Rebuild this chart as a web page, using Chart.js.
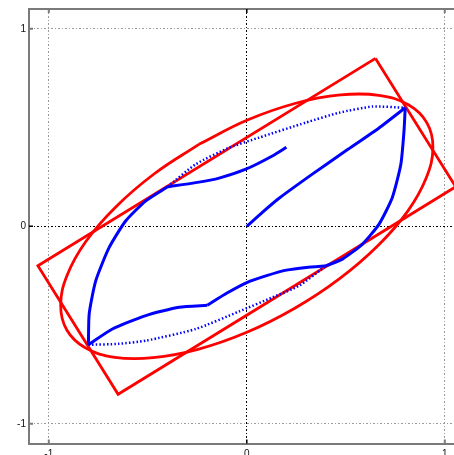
<!DOCTYPE html>
<html>
<head>
<meta charset="utf-8">
<script src="https://cdn.jsdelivr.net/npm/chart.js@4"></script>
<style>
  html, body { margin: 0; padding: 0; background: #fff; overflow: hidden; }
  #wrap { width: 470px; height: 455px; }
</style>
</head>
<body>
<div id="wrap"><canvas id="chart" width="470" height="455"></canvas></div>
<script>
/* ===== data ===== */
const xTicks = [-1, 0, 1];
const yTicks = [-1, 0, 1];

// solid blue path, split where it has corners
const blueA = [[0, 0], [0.08, 0.072], [0.163, 0.142], [0.331, 0.264], [0.5, 0.382], [0.668, 0.498], [0.8, 0.6]];
const blueB = [[0.8, 0.6], [0.794, 0.483], [0.778, 0.314], [0.735, 0.146], [0.668, 0.011], [0.584, -0.09], [0.483, -0.166], [0.4, -0.2]];
const blueC = [[0.4, -0.2], [0.3, -0.208], [0.2, -0.222], [0.1, -0.25], [0, -0.285], [-0.1, -0.338], [-0.2, -0.4]];
const blueD = [[-0.2, -0.4], [-0.342, -0.41], [-0.51, -0.452], [-0.679, -0.52], [-0.8, -0.6]];
const blueE = [[-0.8, -0.6], [-0.796, -0.443], [-0.763, -0.276], [-0.695, -0.107], [-0.611, 0.028], [-0.51, 0.129], [-0.4, 0.2]];
const blueF = [[-0.4, 0.2], [-0.258, 0.221], [-0.14, 0.244], [-0.005, 0.289], [0.129, 0.356], [0.2, 0.4]];

// dotted blue arcs
const dotUpper = [[-0.4, 0.2], [-0.258, 0.314], [-0.089, 0.398], [0.062, 0.449], [0.298, 0.525], [0.466, 0.575], [0.634, 0.606], [0.8, 0.6]];
const dotLower = [[-0.8, -0.6], [-0.65, -0.595], [-0.51, -0.579], [-0.258, -0.52], [-0.039, -0.431], [0.129, -0.36], [0.264, -0.301], [0.4, -0.2]];

// red box and red ellipse
const redBox = [[0.65, 0.85], [1.055, 0.2], [-0.65, -0.85], [-1.055, -0.2], [0.65, 0.85]];
const redEllipse = [
  [-0.24, 0.416], [-0.467, 0.266], [-0.663, 0.097], [-0.813, -0.077], [-0.907, -0.247], [-0.94, -0.399],
  [-0.909, -0.525], [-0.816, -0.615], [-0.667, -0.663], [-0.473, -0.665], [-0.247, -0.623], [-0.003, -0.538],
  [0.24, -0.416], [0.467, -0.266], [0.663, -0.097], [0.813, 0.077], [0.907, 0.247], [0.94, 0.399],
  [0.909, 0.525], [0.816, 0.615], [0.667, 0.663], [0.473, 0.665], [0.247, 0.623], [0.003, 0.538], [-0.24, 0.416]
];

const toXY = arr => arr.map(([x, y]) => ({ x, y }));

const BLUE = '#0000ff';
const RED  = '#ff0000';
const FRAME = '#7a7a7a';

function solid(pts, color, width, tension) {
  return {
    data: toXY(pts), showLine: true, borderColor: color, borderWidth: width,
    pointRadius: 0, tension: tension, fill: false
  };
}

const dotted = { borderDash: [1.5, 2.2], borderCapStyle: 'butt' };

const datasets = [
  solid(blueA, BLUE, 3, 0.2),
  solid(blueB, BLUE, 3, 0.2),
  solid(blueC, BLUE, 3, 0.2),
  solid(blueD, BLUE, 3, 0.2),
  solid(blueE, BLUE, 3, 0.2),
  solid(blueF, BLUE, 3, 0.2),
  Object.assign(solid(dotUpper, BLUE, 2.5, 0.2), dotted),
  Object.assign(solid(dotLower, BLUE, 2.5, 0.2), dotted),
  Object.assign(solid(redBox, RED, 2.8, 0), { borderJoinStyle: 'miter' }),
  solid(redEllipse, RED, 2.8, 0.4)
];

const gridColor = ctx => (ctx.tick && ctx.tick.value === 0) ? '#000000' : '#9a9a9a';

/* frame on top/right and inward tick marks */
const frameTicks = {
  id: 'frameTicks',
  afterDraw(chart) {
    const { ctx, chartArea: a, scales } = chart;
    ctx.save();
    ctx.strokeStyle = FRAME;
    ctx.lineWidth = 2;
    ctx.beginPath();
    ctx.moveTo(a.left, a.top); ctx.lineTo(a.right, a.top);
    ctx.moveTo(a.right, a.top); ctx.lineTo(a.right, a.bottom);
    ctx.stroke();
    const len = 4;
    xTicks.forEach(v => {
      const px = scales.x.getPixelForValue(v);
      ctx.strokeStyle = v === 0 ? '#000' : FRAME;
      ctx.lineWidth = v === 0 ? 1.5 : 2;
      ctx.beginPath();
      ctx.moveTo(px, a.bottom); ctx.lineTo(px, a.bottom - len);
      ctx.moveTo(px, a.top); ctx.lineTo(px, a.top + len);
      ctx.stroke();
    });
    yTicks.forEach(v => {
      const py = scales.y.getPixelForValue(v);
      ctx.strokeStyle = v === 0 ? '#000' : FRAME;
      ctx.lineWidth = v === 0 ? 1.5 : 2;
      ctx.beginPath();
      ctx.moveTo(a.left, py); ctx.lineTo(a.left + len, py);
      ctx.moveTo(a.right, py); ctx.lineTo(a.right - len, py);
      ctx.stroke();
    });
    ctx.restore();
  }
};

const tickFont = { family: 'Liberation Sans', size: 10 };

new Chart(document.getElementById('chart').getContext('2d'), {
  type: 'scatter',
  data: { datasets },
  options: {
    responsive: false,
    animation: false,
    events: [],
    layout: { padding: { top: 8, right: 5.4, left: 0, bottom: 0 } },
    plugins: { legend: { display: false }, tooltip: { enabled: false } },
    scales: {
      x: {
        type: 'linear', min: -1.1, max: 1.1,
        afterBuildTicks: s => { s.ticks = xTicks.map(v => ({ value: v })); },
        afterFit: s => { s.height = 11.4; },
        grid: { color: gridColor, lineWidth: 1, drawTicks: false },
        border: { color: FRAME, width: 2, dash: [2, 2, 1, 2] },
        ticks: { font: tickFont, color: '#111', padding: 5, maxRotation: 0, autoSkip: false,
                 callback: v => String(v) }
      },
      y: {
        type: 'linear', min: -1.1, max: 1.1,
        afterBuildTicks: s => { s.ticks = yTicks.map(v => ({ value: v })); },
        afterFit: s => { s.width = 29; },
        grid: { color: gridColor, lineWidth: 1, drawTicks: false },
        border: { color: FRAME, width: 2, dash: [2, 2, 1, 2] },
        ticks: { font: tickFont, color: '#111', padding: 3, autoSkip: false,
                 callback: v => String(v) }
      }
    }
  },
  plugins: [frameTicks]
});
</script>
</body>
</html>
